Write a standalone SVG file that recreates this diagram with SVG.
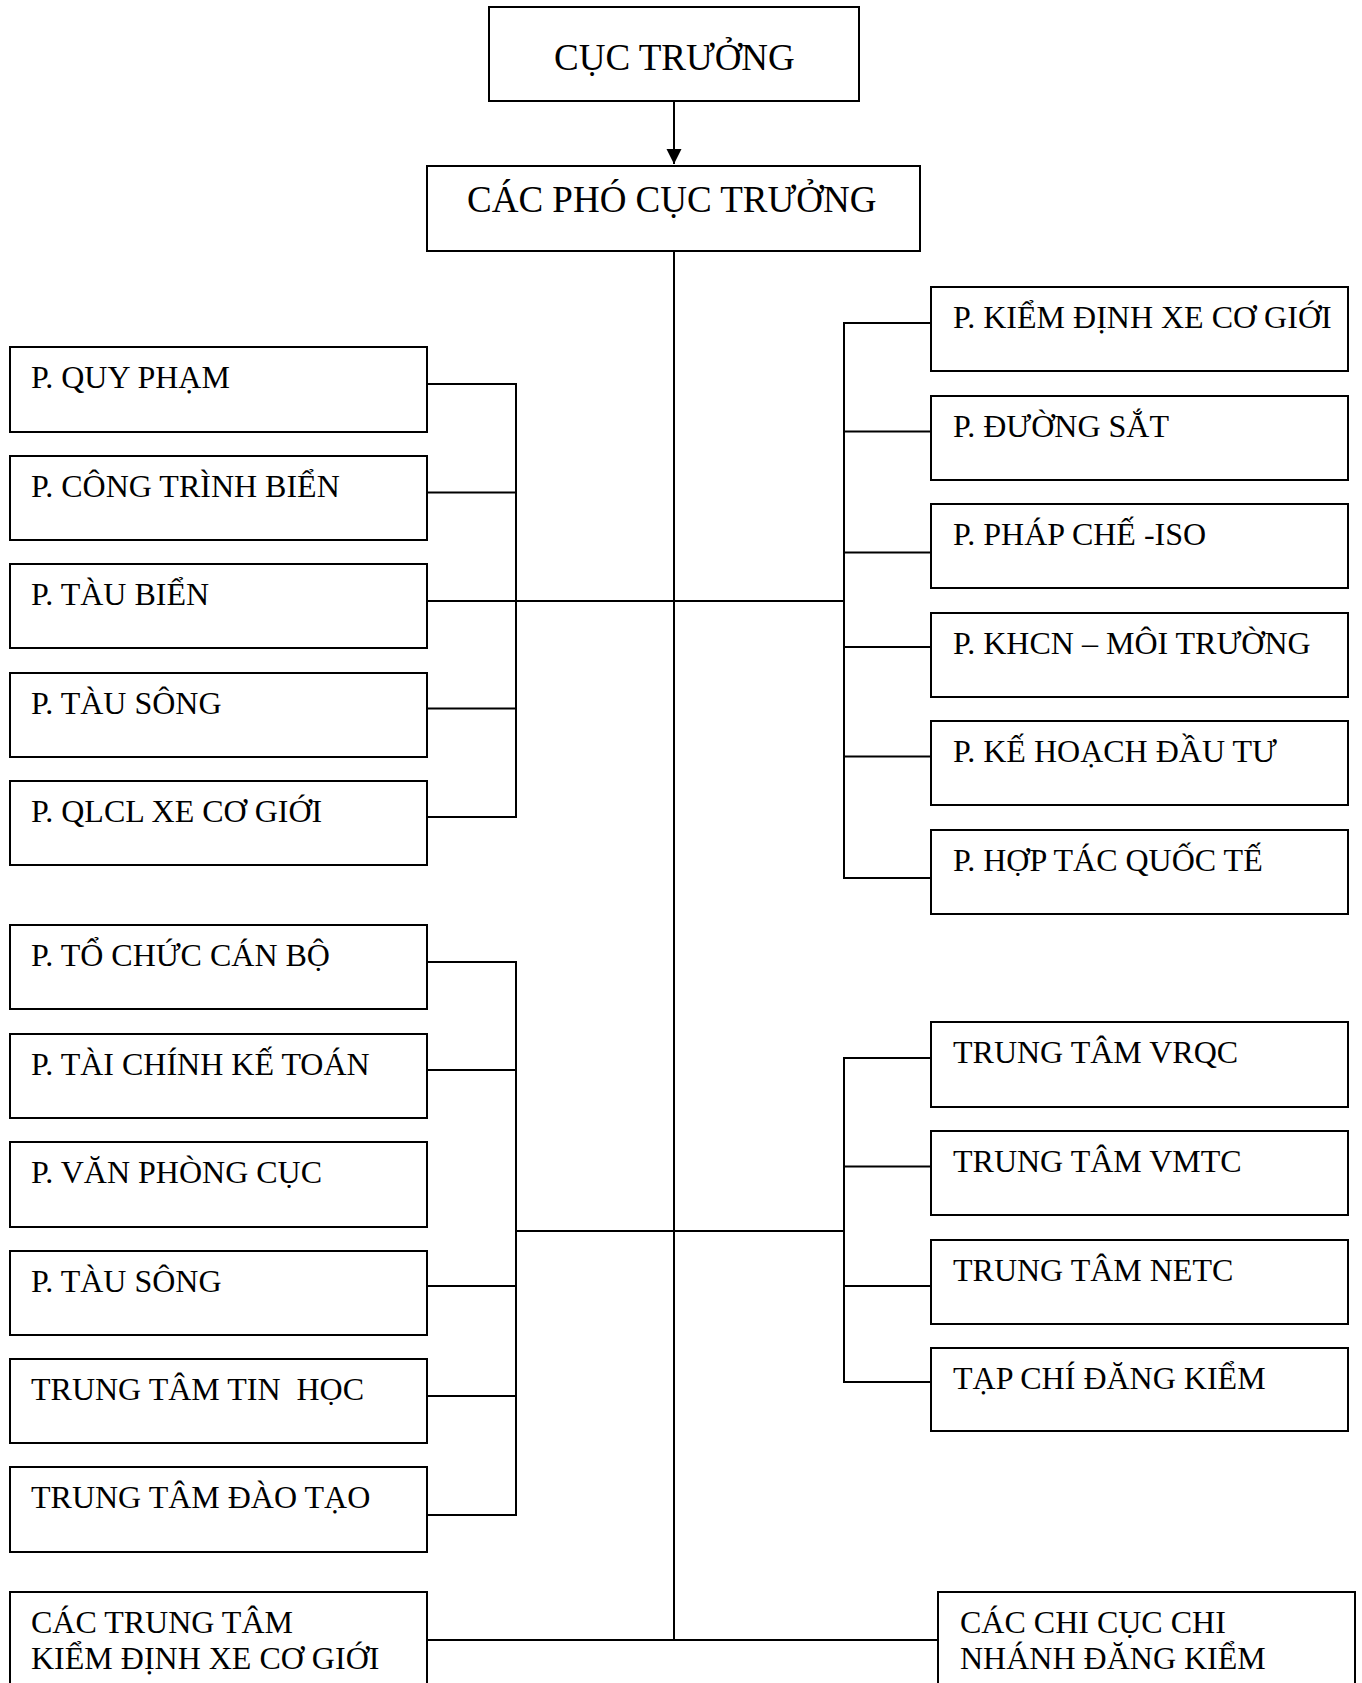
<svg xmlns="http://www.w3.org/2000/svg" width="1362" height="1683" viewBox="0 0 1362 1683">
<style>
.box{fill:#fff;stroke:#000;stroke-width:2}
.t{font-family:"Liberation Serif","Times New Roman",serif;font-size:32px;fill:#000;white-space:pre}
.c{fill:none;stroke:#000;stroke-width:2}
</style>
<defs>
<marker id="arr" markerWidth="16" markerHeight="16" refX="15" refY="7.5" orient="auto" markerUnits="userSpaceOnUse">
<path d="M0,0 L15,7.5 L0,15 Z" fill="#000"/>
</marker>
</defs>
<rect width="1362" height="1683" fill="#fff"/>
<g id="connectors">
<line class="c" x1="674" y1="101" x2="674" y2="164" marker-end="url(#arr)"/>
<line class="c" x1="674" y1="251" x2="674" y2="1640"/>
<polyline class="c" points="427,384 516,384 516,817 427,817"/>
<line class="c" x1="427" y1="492.5" x2="516" y2="492.5"/>
<line class="c" x1="427" y1="601" x2="844" y2="601"/>
<line class="c" x1="427" y1="708.5" x2="516" y2="708.5"/>
<polyline class="c" points="931,323 844,323 844,878 931,878"/>
<line class="c" x1="844" y1="431.5" x2="931" y2="431.5"/>
<line class="c" x1="844" y1="552.5" x2="931" y2="552.5"/>
<line class="c" x1="844" y1="647" x2="931" y2="647"/>
<line class="c" x1="844" y1="756.5" x2="931" y2="756.5"/>
<polyline class="c" points="427,962 516,962 516,1515 427,1515"/>
<line class="c" x1="427" y1="1070" x2="516" y2="1070"/>
<line class="c" x1="427" y1="1286" x2="516" y2="1286"/>
<line class="c" x1="427" y1="1396" x2="516" y2="1396"/>
<line class="c" x1="516" y1="1231" x2="844" y2="1231"/>
<polyline class="c" points="931,1058 844,1058 844,1382 931,1382"/>
<line class="c" x1="844" y1="1166.5" x2="931" y2="1166.5"/>
<line class="c" x1="844" y1="1286" x2="931" y2="1286"/>
<line class="c" x1="427" y1="1640" x2="938" y2="1640"/>
</g>
<g id="n-cuc-truong"><rect class="box" x="489" y="7" width="370" height="94"/><text class="t" x="554" y="70" style="font-size:37px">CỤC TRƯỞNG</text></g>
<g id="n-pho-cuc-truong"><rect class="box" x="427" y="166" width="493" height="85"/><text class="t" x="467" y="212" style="font-size:37px">CÁC PHÓ CỤC TRƯỞNG</text></g>

<g id="n-quy-pham"><rect class="box" x="10" y="347" width="417" height="85"/><text class="t" x="31" y="388">P. QUY PHẠM</text></g>
<g id="n-cong-trinh-bien"><rect class="box" x="10" y="456" width="417" height="84"/><text class="t" x="31" y="497">P. CÔNG TRÌNH BIỂN</text></g>
<g id="n-tau-bien"><rect class="box" x="10" y="564" width="417" height="84"/><text class="t" x="31" y="605">P. TÀU BIỂN</text></g>
<g id="n-tau-song-1"><rect class="box" x="10" y="673" width="417" height="84"/><text class="t" x="31" y="714">P. TÀU SÔNG</text></g>
<g id="n-qlcl"><rect class="box" x="10" y="781" width="417" height="84"/><text class="t" x="31" y="822">P. QLCL XE CƠ GIỚI</text></g>

<g id="n-kiem-dinh"><rect class="box" x="931" y="287" width="417" height="84"/><text class="t" x="953" y="328">P. KIỂM ĐỊNH XE CƠ GIỚI</text></g>
<g id="n-duong-sat"><rect class="box" x="931" y="396" width="417" height="84"/><text class="t" x="953" y="437">P. ĐƯỜNG SẮT</text></g>
<g id="n-phap-che"><rect class="box" x="931" y="504" width="417" height="84"/><text class="t" x="953" y="545">P. PHÁP CHẾ -ISO</text></g>
<g id="n-khcn"><rect class="box" x="931" y="613" width="417" height="84"/><text class="t" x="953" y="654">P. KHCN – MÔI TRƯỜNG</text></g>
<g id="n-ke-hoach"><rect class="box" x="931" y="721" width="417" height="84"/><text class="t" x="953" y="762">P. KẾ HOẠCH ĐẦU TƯ</text></g>
<g id="n-hop-tac"><rect class="box" x="931" y="830" width="417" height="84"/><text class="t" x="953" y="871">P. HỢP TÁC QUỐC TẾ</text></g>

<g id="n-to-chuc"><rect class="box" x="10" y="925" width="417" height="84"/><text class="t" x="31" y="966">P. TỔ CHỨC CÁN BỘ</text></g>
<g id="n-tai-chinh"><rect class="box" x="10" y="1034" width="417" height="84"/><text class="t" x="31" y="1075">P. TÀI CHÍNH KẾ TOÁN</text></g>
<g id="n-van-phong"><rect class="box" x="10" y="1142" width="417" height="85"/><text class="t" x="31" y="1183">P. VĂN PHÒNG CỤC</text></g>
<g id="n-tau-song-2"><rect class="box" x="10" y="1251" width="417" height="84"/><text class="t" x="31" y="1292">P. TÀU SÔNG</text></g>
<g id="n-tin-hoc"><rect class="box" x="10" y="1359" width="417" height="84"/><text class="t" x="31" y="1400">TRUNG TÂM TIN  HỌC</text></g>
<g id="n-dao-tao"><rect class="box" x="10" y="1467" width="417" height="85"/><text class="t" x="31" y="1508">TRUNG TÂM ĐÀO TẠO</text></g>

<g id="n-vrqc"><rect class="box" x="931" y="1022" width="417" height="85"/><text class="t" x="953" y="1063">TRUNG TÂM VRQC</text></g>
<g id="n-vmtc"><rect class="box" x="931" y="1131" width="417" height="84"/><text class="t" x="953" y="1172">TRUNG TÂM VMTC</text></g>
<g id="n-netc"><rect class="box" x="931" y="1240" width="417" height="84"/><text class="t" x="953" y="1281">TRUNG TÂM NETC</text></g>
<g id="n-tap-chi"><rect class="box" x="931" y="1348" width="417" height="83"/><text class="t" x="953" y="1389">TẠP CHÍ ĐĂNG KIỂM</text></g>

<g id="n-trung-tam-kd"><rect class="box" x="10" y="1592" width="417" height="120"/><text class="t" x="31" y="1633">CÁC TRUNG TÂM</text><text class="t" x="31" y="1669">KIỂM ĐỊNH XE CƠ GIỚI</text></g>
<g id="n-chi-cuc"><rect class="box" x="938" y="1592" width="417" height="120"/><text class="t" x="960" y="1633">CÁC CHI CỤC CHI</text><text class="t" x="960" y="1669">NHÁNH ĐĂNG KIỂM</text></g>
</svg>
